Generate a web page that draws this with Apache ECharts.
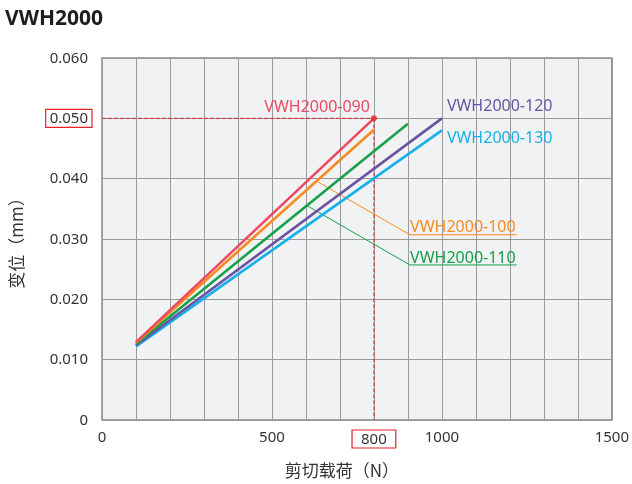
<!DOCTYPE html>
<html><head><meta charset="utf-8">
<script src="https://cdn.jsdelivr.net/npm/echarts@6/dist/echarts.min.js"></script>
<style>html,body{margin:0;padding:0;background:#fff}#c{width:632px;height:484px}</style>
</head><body><div id="c"></div>
<script>
// Data
var seriesNames = ['VWH2000-090','VWH2000-100','VWH2000-110','VWH2000-120','VWH2000-130'];
var loadStart = [100,100,100,100,100];
var loadEnd = [800,800,900,1000,1000];
var dispStart = [0.0129,0.0128,0.0126,0.0124,0.0122];
var dispEnd = [0.0500,0.0481,0.0491,0.0500,0.0480];
var colors = ['#ec4a63','#f68b1f','#16a04a','#6b53a4','#16b0ec'];
var xTickLabels = [0,500,800,1000,1500];
var yTicks = [0,0.01,0.02,0.03,0.04,0.05,0.06];
// reference marks
var refLoad = 800, refDisp = 0.050;
// leader lines for labels (anchor on line -> elbow -> end of underline)
var leader100 = [[631,0.0396],[906,0.0307],[1220,0.0307]];
var leader110 = [[604,0.0355],[906,0.0257],[1220,0.0257]];

var font = 'Noto Sans';
var series = [];
// leader lines
[[leader100,1],[leader110,2]].forEach(function(p){
  series.push({type:'line',data:p[0],symbol:'none',silent:true,z:3,
    lineStyle:{color:colors[p[1]],width:1},
    endLabel:{show:true,formatter:seriesNames[p[1]],color:colors[p[1]],fontFamily:font,fontSize:16,
      align:'right',verticalAlign:'bottom',offset:[-9,1]}});
});
// reference dashed lines
series.push({type:'line',data:[[0,refDisp],[refLoad,refDisp]],symbol:'none',z:4,
  lineStyle:{color:'#e8202a',width:1,type:[4,2]}});
series.push({type:'line',data:[[refLoad,refDisp],[refLoad,0]],symbol:'none',z:4,
  lineStyle:{color:'#e8202a',width:1,type:[4,2]}});
// main lines
var endOffsets = [
  {align:'right',verticalAlign:'bottom',offset:[-12,-3]},
  null, null,
  {align:'left',verticalAlign:'bottom',offset:[-3,-4]},
  {align:'left',verticalAlign:'middle',offset:[-3,8]}
];
for (var i=seriesNames.length-1;i>=0;i--){
  var s = {type:'line',name:seriesNames[i],data:[[loadStart[i],dispStart[i]],[loadEnd[i],dispEnd[i]]],
    symbol:'none',z:5,lineStyle:{color:colors[i],width:2.6}};
  if (endOffsets[i]) {
    s.endLabel = Object.assign({show:true,formatter:seriesNames[i],color:colors[i],fontFamily:font,fontSize:16},endOffsets[i]);
  }
  series.push(s);
}
series.push({type:'scatter',data:[[refLoad,refDisp]],symbolSize:6,z:6,itemStyle:{color:'#e8202a'}});

var chart = echarts.init(document.getElementById('c'),null,{renderer:'canvas'});
chart.setOption({
  animation:false,
  backgroundColor:'#fff',
  title:{text:'VWH2000',left:0,top:4,textStyle:{fontFamily:font,fontSize:21,fontWeight:'bold',color:'#1e1e1e'}},
  grid:{left:102,right:19,top:58,bottom:64,show:true,backgroundColor:'#f1f2f4',borderColor:'#8a8a8a',borderWidth:1.5},
  xAxis:{type:'value',min:0,max:1500,interval:100,
    name:'剪切载荷（N）',nameLocation:'middle',nameGap:42,
    nameTextStyle:{fontFamily:'Noto Sans CJK SC',fontSize:17,color:'#333',padding:[0,30,0,0]},
    axisLine:{show:false},axisTick:{show:false},
    splitLine:{show:true,lineStyle:{color:'#9a9a9a',width:1}},
    axisLabel:{margin:10,fontFamily:font,fontSize:15,color:'#333',showMinLabel:true,showMaxLabel:true,
      formatter:function(v){
        if (v===refLoad) return '{b|'+v+'}';
        return xTickLabels.indexOf(v)>=0 ? String(v) : '';
      },
      rich:{b:{fontFamily:font,fontSize:15,color:'#333',borderColor:'#e8202a',borderWidth:1.2,padding:[2,9,1,9]}}}
  },
  yAxis:{type:'value',min:0,max:0.06,interval:0.01,
    name:'变位（mm）',nameLocation:'middle',nameGap:77,nameRotate:90,
    nameTextStyle:{fontFamily:'Noto Sans CJK SC',fontSize:17,color:'#333'},
    axisLine:{show:false},axisTick:{show:false},
    splitLine:{show:true,lineStyle:{color:'#9a9a9a',width:1}},
    axisLabel:{margin:10,fontFamily:font,fontSize:15,color:'#333',
      formatter:function(v){
        var r = Math.round(v*1000)/1000;
        if (r===0) return '{n|0}';
        if (Math.abs(r-refDisp)<1e-9) return '{b|'+r.toFixed(3)+'}';
        return '{n|'+r.toFixed(3)+'}';
      },
      rich:{
        n:{fontFamily:font,fontSize:15,color:'#333',padding:[2,4,1,4]},
        b:{fontFamily:font,fontSize:15,color:'#333',borderColor:'#e8202a',borderWidth:1.2,padding:[2,4,1,4]}}}
  },
  series:series
});
</script></body></html>
